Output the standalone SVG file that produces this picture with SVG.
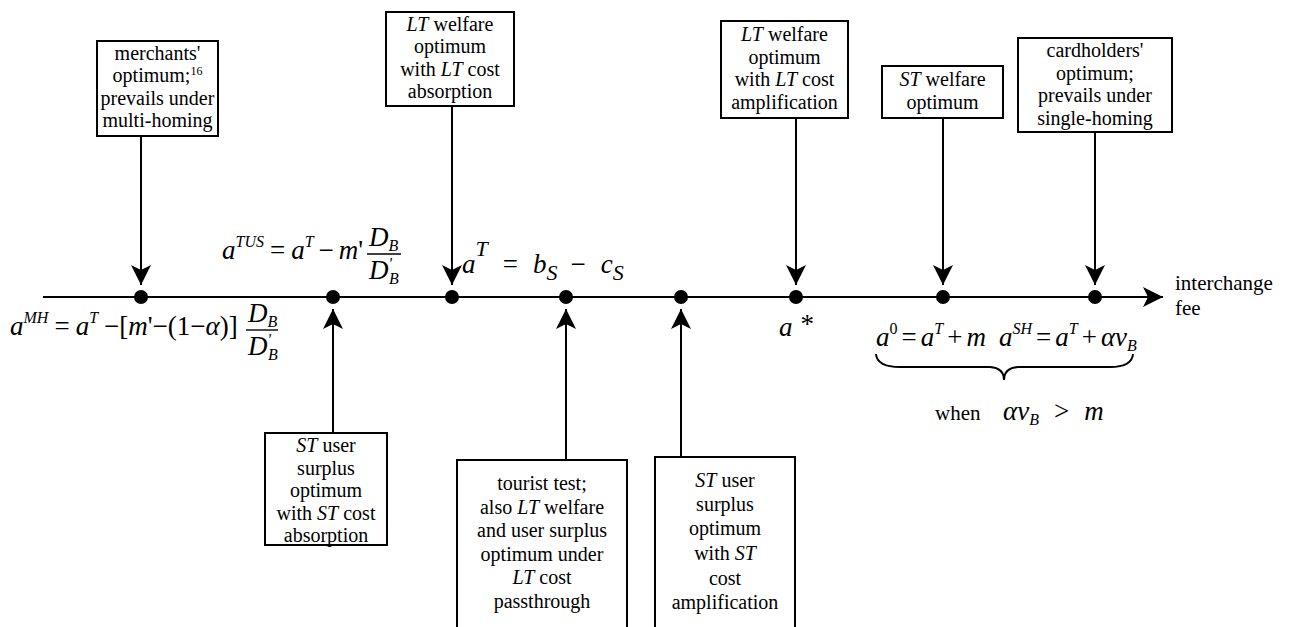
<svg xmlns="http://www.w3.org/2000/svg" width="1289" height="627" viewBox="0 0 1289 627">
<style>
.bx{fill:#fff;stroke:#000;stroke-width:2}
.t{font-family:"Liberation Serif","Times New Roman","DejaVu Serif",serif;font-size:20px;text-anchor:middle;fill:#000}
.r{font-family:"Liberation Serif","Times New Roman","DejaVu Serif",serif;font-size:21px;fill:#000}
.i{font-style:italic}
.m{font-family:"Liberation Serif","Times New Roman","DejaVu Serif",serif;font-size:27px;font-style:italic;fill:#000}
.u{font-style:normal}
.s{font-size:16px}
.ln{stroke:#000;stroke-width:2;fill:none}
.bar{stroke:#000;stroke-width:1.4}
.dot{fill:#000}
</style>
<defs>
<marker id="ah" markerUnits="userSpaceOnUse" markerWidth="24" markerHeight="24" viewBox="-1 -12 24 24" refX="20" refY="0" orient="auto">
<path d="M0,-10 L20,0 L0,10 L5,0 Z" fill="#000"/>
</marker>
</defs>

<g id="connectors">
<line class="ln" x1="43" y1="297" x2="1163" y2="297" marker-end="url(#ah)"/>
<line class="ln" x1="141" y1="136" x2="141" y2="285" marker-end="url(#ah)"/>
<line class="ln" x1="452" y1="106" x2="452" y2="285" marker-end="url(#ah)"/>
<line class="ln" x1="796" y1="118" x2="796" y2="285" marker-end="url(#ah)"/>
<line class="ln" x1="943" y1="118" x2="943" y2="285" marker-end="url(#ah)"/>
<line class="ln" x1="1095" y1="132" x2="1095" y2="285" marker-end="url(#ah)"/>
<line class="ln" x1="333" y1="433" x2="333" y2="309" marker-end="url(#ah)"/>
<line class="ln" x1="566" y1="460" x2="566" y2="309" marker-end="url(#ah)"/>
<line class="ln" x1="681" y1="457" x2="681" y2="309" marker-end="url(#ah)"/>
</g>

<g id="dots">
<circle class="dot" cx="141" cy="297" r="7"/>
<circle class="dot" cx="333" cy="297" r="7"/>
<circle class="dot" cx="452" cy="297" r="7"/>
<circle class="dot" cx="566" cy="297" r="7"/>
<circle class="dot" cx="681" cy="297" r="7"/>
<circle class="dot" cx="796" cy="297" r="7"/>
<circle class="dot" cx="943" cy="297" r="7"/>
<circle class="dot" cx="1095" cy="297" r="7"/>
</g>

<g id="box-merchants">
<rect class="bx" x="97" y="41" width="121" height="95"/>
<text class="t" x="157.5" y="59.5">merchants'</text>
<text class="t" x="157.5" y="82">optimum;<tspan font-size="12" dy="-7">16</tspan></text>
<text class="t" x="157.5" y="104.5">prevails under</text>
<text class="t" x="157.5" y="127">multi-homing</text>
</g>

<g id="box-lt-absorption">
<rect class="bx" x="386" y="12" width="128" height="94"/>
<text class="t" x="450" y="30.5"><tspan class="i">LT</tspan> welfare</text>
<text class="t" x="450" y="53">optimum</text>
<text class="t" x="450" y="75.5">with <tspan class="i">LT</tspan> cost</text>
<text class="t" x="450" y="98">absorption</text>
</g>

<g id="box-lt-amplification">
<rect class="bx" x="721" y="21" width="127" height="97"/>
<text class="t" x="784.5" y="41"><tspan class="i">LT</tspan> welfare</text>
<text class="t" x="784.5" y="63.5">optimum</text>
<text class="t" x="784.5" y="86">with <tspan class="i">LT</tspan> cost</text>
<text class="t" x="784.5" y="108.5">amplification</text>
</g>

<g id="box-st-welfare">
<rect class="bx" x="882" y="66" width="121" height="52"/>
<text class="t" x="942.5" y="86"><tspan class="i">ST</tspan> welfare</text>
<text class="t" x="942.5" y="108.5">optimum</text>
</g>

<g id="box-cardholders">
<rect class="bx" x="1018" y="38" width="154" height="94"/>
<text class="t" x="1095" y="57">cardholders'</text>
<text class="t" x="1095" y="79.5">optimum;</text>
<text class="t" x="1095" y="102">prevails under</text>
<text class="t" x="1095" y="124.5">single-homing</text>
</g>

<g id="box-st-absorption">
<rect class="bx" x="265" y="433" width="122" height="112"/>
<text class="t" x="326" y="452"><tspan class="i">ST</tspan> user</text>
<text class="t" x="326" y="474.5">surplus</text>
<text class="t" x="326" y="497">optimum</text>
<text class="t" x="326" y="519.5">with <tspan class="i">ST</tspan> cost</text>
<text class="t" x="326" y="542">absorption</text>
</g>

<g id="box-tourist">
<path class="ln" d="M457,640 V460 H627 V640"/>
<text class="t" x="542" y="490">tourist test;</text>
<text class="t" x="542" y="513.5">also <tspan class="i">LT</tspan> welfare</text>
<text class="t" x="542" y="537">and user surplus</text>
<text class="t" x="542" y="560.5">optimum under</text>
<text class="t" x="542" y="584"><tspan class="i">LT</tspan> cost</text>
<text class="t" x="542" y="607.5">passthrough</text>
</g>

<g id="box-st-amplification">
<path class="ln" d="M655,640 V457 H795 V640"/>
<text class="t" x="725" y="487"><tspan class="i">ST</tspan> user</text>
<text class="t" x="725" y="511">surplus</text>
<text class="t" x="725" y="535">optimum</text>
<text class="t" x="725" y="560">with <tspan class="i">ST</tspan></text>
<text class="t" x="725" y="585">cost</text>
<text class="t" x="725" y="609">amplification</text>
</g>

<g id="formula-mh">
<text class="m" x="10" y="335">a<tspan class="s" dy="-12">MH</tspan><tspan class="u" dy="12" dx="6">=</tspan><tspan dx="6">a</tspan><tspan class="s" dy="-12">T</tspan><tspan class="u" dy="12" dx="6">−[</tspan>m<tspan class="u">'−(1−</tspan>α<tspan class="u">)]</tspan></text>
<text class="m" x="248" y="322">D<tspan class="s" dy="5">B</tspan></text>
<line class="bar" x1="246" y1="330" x2="278" y2="330"/>
<text class="m" x="248" y="355">D<tspan class="s" dy="-10">'</tspan><tspan class="s" dx="-3" dy="15">B</tspan></text>
</g>

<g id="formula-tus">
<text class="m" x="222" y="259">a<tspan class="s" dy="-12">TUS</tspan><tspan class="u" dy="12" dx="6">=</tspan><tspan dx="6">a</tspan><tspan class="s" dy="-12">T</tspan><tspan class="u" dy="12" dx="5">−</tspan><tspan dx="5">m</tspan><tspan class="u">'</tspan></text>
<text class="m" x="369" y="246">D<tspan class="s" dy="5">B</tspan></text>
<line class="bar" x1="367" y1="254" x2="401" y2="254"/>
<text class="m" x="369" y="279">D<tspan class="s" dy="-10">'</tspan><tspan class="s" dx="-3" dy="15">B</tspan></text>
</g>

<g id="formula-at">
<text class="m" x="462" y="273" font-size="39">a<tspan font-size="22" dy="-17">T</tspan><tspan class="u" dy="17" dx="15">=</tspan><tspan dx="15">b</tspan><tspan font-size="22" dy="7">S</tspan><tspan class="u" dy="-7" dx="13">−</tspan><tspan dx="15">c</tspan><tspan font-size="22" dy="7">S</tspan></text>
</g>

<g id="formula-astar">
<text class="m" x="779" y="336">a<tspan class="u" dx="8" dy="-3">*</tspan></text>
</g>

<g id="formula-a0">
<text class="m" x="876" y="346">a<tspan class="s u" dy="-12">0</tspan><tspan class="u" dy="12" dx="4">=</tspan><tspan dx="4">a</tspan><tspan class="s" dy="-12">T</tspan><tspan class="u" dy="12" dx="4">+</tspan><tspan dx="4">m</tspan></text>
</g>

<g id="formula-ash">
<text class="m" x="999" y="346">a<tspan class="s" dy="-12">SH</tspan><tspan class="u" dy="12" dx="4">=</tspan><tspan dx="4">a</tspan><tspan class="s" dy="-12">T</tspan><tspan class="u" dy="12" dx="4">+</tspan><tspan dx="4">αv</tspan><tspan class="s" dy="5">B</tspan></text>
</g>

<g id="brace">
<path class="ln" d="M876,354 Q877,367 900,367 L990,367 Q1004,368 1004,380 Q1004,368 1018,367 L1110,367 Q1132,367 1133,354" stroke-width="1.6"/>
</g>

<g id="when-label">
<text class="r" x="935" y="420" font-size="23">when</text>
<text class="m" x="1003" y="420" font-size="30">αv<tspan class="s" font-size="17" dy="5">B</tspan><tspan class="u" dy="-5" dx="15">&gt;</tspan><tspan dx="15">m</tspan></text>
</g>

<g id="axis-label">
<text class="r" x="1175" y="290" font-size="22">interchange</text>
<text class="r" x="1175" y="315" font-size="22">fee</text>
</g>
</svg>
